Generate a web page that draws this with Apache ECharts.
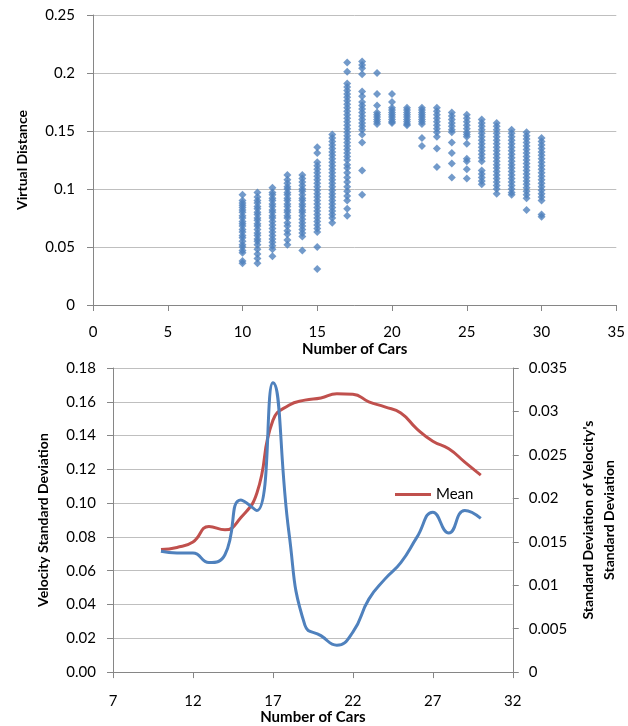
<!DOCTYPE html>
<html>
<head>
<meta charset="utf-8">
<script src="https://cdn.jsdelivr.net/npm/echarts@6/dist/echarts.min.js"></script>
<style>
  html, body { margin: 0; padding: 0; background: #fff; }
  #chart { width: 628px; height: 726px; }
</style>
</head>
<body>
<div id="chart"></div>
<script>
// Virtual distance samples per number of cars (top scatter)
const vd10 = [0.095, 0.090, 0.088, 0.086, 0.084, 0.082, 0.080, 0.077, 0.075, 0.072, 0.070, 0.068, 0.065, 0.063, 0.060, 0.058, 0.055, 0.052, 0.050, 0.047, 0.045, 0.038, 0.036];
const vd11 = [0.097, 0.093, 0.090, 0.088, 0.085, 0.083, 0.080, 0.078, 0.075, 0.073, 0.070, 0.068, 0.065, 0.062, 0.060, 0.057, 0.055, 0.052, 0.048, 0.044, 0.040, 0.036];
const vd12 = [0.101, 0.097, 0.095, 0.092, 0.090, 0.087, 0.085, 0.082, 0.080, 0.077, 0.075, 0.072, 0.069, 0.066, 0.063, 0.060, 0.057, 0.054, 0.051, 0.048, 0.042];
const vd13 = [0.112, 0.108, 0.105, 0.102, 0.100, 0.097, 0.095, 0.092, 0.090, 0.087, 0.085, 0.082, 0.080, 0.077, 0.075, 0.071, 0.068, 0.064, 0.061, 0.056, 0.052];
const vd14 = [0.112, 0.109, 0.106, 0.103, 0.100, 0.098, 0.095, 0.092, 0.090, 0.087, 0.085, 0.082, 0.080, 0.077, 0.074, 0.071, 0.068, 0.065, 0.062, 0.059, 0.047];
const vd15 = [0.136, 0.131, 0.123, 0.120, 0.117, 0.114, 0.111, 0.108, 0.105, 0.102, 0.099, 0.096, 0.093, 0.090, 0.087, 0.084, 0.081, 0.078, 0.075, 0.072, 0.069, 0.066, 0.063, 0.050, 0.031];
const vd16 = [0.147, 0.144, 0.141, 0.138, 0.135, 0.132, 0.129, 0.126, 0.123, 0.120, 0.117, 0.114, 0.111, 0.108, 0.105, 0.102, 0.099, 0.096, 0.093, 0.090, 0.087, 0.084, 0.081, 0.078, 0.075, 0.071];
const vd17 = [0.209, 0.201, 0.191, 0.188, 0.185, 0.182, 0.179, 0.176, 0.173, 0.170, 0.167, 0.164, 0.161, 0.158, 0.155, 0.152, 0.149, 0.146, 0.143, 0.140, 0.137, 0.134, 0.131, 0.128, 0.125, 0.121, 0.118, 0.114, 0.110, 0.106, 0.102, 0.098, 0.094, 0.090, 0.083, 0.077];
const vd18 = [0.210, 0.207, 0.204, 0.199, 0.184, 0.180, 0.175, 0.172, 0.169, 0.166, 0.163, 0.160, 0.157, 0.154, 0.151, 0.147, 0.140, 0.116, 0.095];
const vd19 = [0.200, 0.182, 0.172, 0.166, 0.164, 0.162, 0.160, 0.158, 0.156];
const vd20 = [0.182, 0.175, 0.170, 0.168, 0.166, 0.164, 0.162, 0.160, 0.158, 0.157];
const vd21 = [0.170, 0.168, 0.166, 0.164, 0.162, 0.160, 0.158, 0.156, 0.155];
const vd22 = [0.170, 0.168, 0.166, 0.164, 0.162, 0.160, 0.158, 0.156, 0.144, 0.137];
const vd23 = [0.170, 0.167, 0.164, 0.161, 0.158, 0.155, 0.152, 0.149, 0.145, 0.135, 0.119];
const vd24 = [0.166, 0.163, 0.160, 0.157, 0.154, 0.151, 0.149, 0.140, 0.131, 0.122, 0.110];
const vd25 = [0.164, 0.161, 0.158, 0.155, 0.152, 0.149, 0.147, 0.145, 0.139, 0.126, 0.124, 0.117, 0.109];
const vd26 = [0.160, 0.157, 0.154, 0.151, 0.148, 0.145, 0.142, 0.139, 0.136, 0.133, 0.130, 0.127, 0.124, 0.116, 0.113, 0.110, 0.107, 0.104];
const vd27 = [0.157, 0.154, 0.151, 0.148, 0.145, 0.142, 0.139, 0.136, 0.133, 0.130, 0.127, 0.124, 0.121, 0.118, 0.115, 0.112, 0.109, 0.106, 0.103, 0.100, 0.096];
const vd28 = [0.151, 0.148, 0.145, 0.142, 0.139, 0.136, 0.133, 0.130, 0.127, 0.124, 0.121, 0.118, 0.115, 0.112, 0.109, 0.106, 0.103, 0.100, 0.097, 0.095];
const vd29 = [0.149, 0.146, 0.143, 0.140, 0.137, 0.134, 0.131, 0.128, 0.125, 0.122, 0.119, 0.116, 0.113, 0.110, 0.107, 0.104, 0.101, 0.098, 0.095, 0.092, 0.082];
const vd30 = [0.144, 0.141, 0.138, 0.135, 0.132, 0.129, 0.126, 0.123, 0.120, 0.117, 0.114, 0.111, 0.108, 0.105, 0.102, 0.099, 0.096, 0.093, 0.090, 0.078, 0.076];

const scatterCars = [10, 11, 12, 13, 14, 15, 16, 17, 18, 19, 20, 21, 22, 23, 24, 25, 26, 27, 28, 29, 30];
const scatterColumns = [vd10, vd11, vd12, vd13, vd14, vd15, vd16, vd17, vd18, vd19, vd20, vd21, vd22, vd23, vd24, vd25, vd26, vd27, vd28, vd29, vd30];

// Velocity statistics (bottom chart)
const lineCars = [10, 11, 12, 13, 14, 15, 16, 17, 18, 19, 20, 21, 22, 23, 24, 25, 26, 27, 28, 29, 30];
const meanVelocitySD = [0.0725, 0.0738, 0.0770, 0.0862, 0.0842, 0.0915, 0.1060, 0.1490, 0.1580, 0.1610, 0.1623, 0.1647, 0.1645, 0.1600, 0.1570, 0.1534, 0.1440, 0.1367, 0.1322, 0.1243, 0.1166];
const sdOfVelocitySD = [0.0139, 0.0137, 0.0137, 0.0126, 0.0135, 0.0198, 0.0186, 0.0333, 0.0161, 0.0054, 0.0042, 0.0031, 0.0046, 0.0084, 0.0107, 0.0126, 0.0155, 0.0184, 0.0160, 0.0186, 0.0177];

// Axis tick values
const topXTicks = [0, 5, 10, 15, 20, 25, 30, 35];
const bottomXTicks = [7, 12, 17, 22, 27, 32];

const scatterPoints = [];
scatterCars.forEach((n, i) => scatterColumns[i].forEach(v => scatterPoints.push([n, v])));
const meanPoints = lineCars.map((n, i) => [n, meanVelocitySD[i]]);
const sdPoints = lineCars.map((n, i) => [n, sdOfVelocitySD[i]]);

const FONT = 'Lato';
const AXIS_GREY = '#868686';
const GRID_GREY = '#bfbfbf';
const BLUE = '#4F81BD';
const RED = '#C0504D';

const labelStyle = { color: '#000', fontFamily: FONT, fontSize: 15 };
const nameStyle = { color: '#000', fontFamily: FONT, fontSize: 14, fontWeight: 'bold' };
const xNameStyle = { color: '#000', fontFamily: FONT, fontSize: 15, fontWeight: 'bold' };
const axisLine = { show: true, lineStyle: { color: AXIS_GREY, width: 1 } };
const axisTick = { show: true, length: 6, lineStyle: { color: AXIS_GREY, width: 1 } };

const chart = echarts.init(document.getElementById('chart'), null, { renderer: 'canvas' });
chart.setOption({
  animation: false,
  backgroundColor: '#fff',
  textStyle: { fontFamily: FONT },
  grid: [
    { left: 93, top: 15, width: 525, height: 290, containLabel: false },
    { left: 113, top: 368, width: 407, height: 305, containLabel: false }
  ],
  legend: {
    data: ['Mean'],
    left: 390,
    top: 482,
    icon: 'rect',
    itemWidth: 36,
    itemHeight: 3,
    textStyle: { color: '#000', fontFamily: FONT, fontSize: 15 }
  },
  xAxis: [
    {
      gridIndex: 0, type: 'value', min: 0, max: 35, interval: 5,
      name: 'Number of Cars', nameLocation: 'middle', nameGap: 37, nameTextStyle: xNameStyle,
      axisLine, axisTick,
      axisLabel: Object.assign({ margin: 20, customValues: topXTicks }, labelStyle),
      splitLine: { show: false }
    },
    {
      gridIndex: 1, type: 'value', min: 7, max: 32,
      name: 'Number of Cars', nameLocation: 'middle', nameGap: 36, nameTextStyle: xNameStyle,
      axisLine,
      axisTick: Object.assign({ customValues: bottomXTicks }, axisTick),
      axisLabel: Object.assign({ margin: 22, customValues: bottomXTicks }, labelStyle),
      splitLine: { show: false }
    }
  ],
  yAxis: [
    {
      gridIndex: 0, type: 'value', min: 0, max: 0.25, interval: 0.05,
      name: 'Virtual Distance', nameLocation: 'middle', nameRotate: 90, nameGap: 64, nameTextStyle: nameStyle,
      axisLine, axisTick,
      axisLabel: Object.assign({ margin: 18 }, labelStyle),
      splitLine: { show: true, lineStyle: { color: GRID_GREY, width: 1 } }
    },
    {
      gridIndex: 1, type: 'value', min: 0, max: 0.18, interval: 0.02,
      name: 'Velocity Standard Deviation', nameLocation: 'middle', nameRotate: 90, nameGap: 63, nameTextStyle: nameStyle,
      axisLine, axisTick,
      axisLabel: Object.assign({ margin: 17, formatter: v => v.toFixed(2) }, labelStyle),
      splitLine: { show: true, lineStyle: { color: GRID_GREY, width: 1 } }
    },
    {
      gridIndex: 1, type: 'value', position: 'right', min: 0, max: 0.035, interval: 0.005,
      name: "Standard Deviation of Velocity's\nStandard Deviation", nameLocation: 'middle', nameRotate: 90, nameGap: 62,
      nameTextStyle: Object.assign({ lineHeight: 21 }, nameStyle),
      axisLine, axisTick,
      axisLabel: Object.assign({ margin: 16 }, labelStyle),
      splitLine: { show: false }
    }
  ],
  series: [
    {
      name: 'Virtual Distance', type: 'scatter', xAxisIndex: 0, yAxisIndex: 0,
      symbol: 'diamond', symbolSize: 8,
      itemStyle: { color: BLUE },
      data: scatterPoints
    },
    {
      name: 'Mean', type: 'line', xAxisIndex: 1, yAxisIndex: 1,
      smooth: 0.5, showSymbol: false,
      lineStyle: { color: RED, width: 3 },
      itemStyle: { color: RED },
      data: meanPoints
    },
    {
      name: 'Std of Std', type: 'line', xAxisIndex: 1, yAxisIndex: 2,
      smooth: 0.5, showSymbol: false,
      lineStyle: { color: BLUE, width: 3 },
      itemStyle: { color: BLUE },
      data: sdPoints
    }
  ]
});
</script>
</body>
</html>
